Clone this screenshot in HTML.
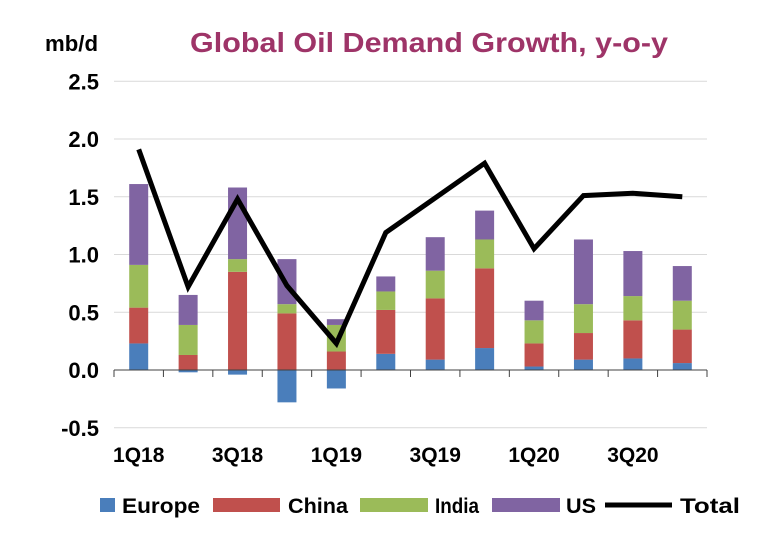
<!DOCTYPE html>
<html><head><meta charset="utf-8"><style>
body{margin:0;background:#fff;width:768px;height:541px;overflow:hidden}
svg text{font-family:"Liberation Sans",Arial,sans-serif;font-weight:bold}
</style></head><body>
<svg id="chart" width="768" height="541">
<text x="45" y="51" font-size="22" fill="#000" textLength="53" lengthAdjust="spacingAndGlyphs">mb/d</text>
<text x="190" y="52" font-size="28" fill="#9E3468" textLength="478" lengthAdjust="spacingAndGlyphs">Global Oil Demand Growth, y-o-y</text>
<g id="grid"></g><g id="bars"></g><g id="axis"></g><g id="line"></g>
<g>
<rect x="100" y="498" width="15" height="14" fill="#4A7EBB"/>
<text x="122" y="513" font-size="21" textLength="78" lengthAdjust="spacingAndGlyphs">Europe</text>
<rect x="213" y="498" width="67" height="14" fill="#C0504D"/>
<text x="288" y="513" font-size="21" textLength="60" lengthAdjust="spacingAndGlyphs">China</text>
<rect x="360" y="498" width="68" height="14" fill="#9BBB59"/>
<text x="435" y="513" font-size="21" textLength="44" lengthAdjust="spacingAndGlyphs">India</text>
<rect x="492" y="498" width="68" height="14" fill="#8064A2"/>
<text x="566" y="513" font-size="21" textLength="30" lengthAdjust="spacingAndGlyphs">US</text>
<line x1="605" y1="505" x2="672" y2="505" stroke="#000" stroke-width="5"/>
<text x="680" y="513" font-size="21" textLength="60" lengthAdjust="spacingAndGlyphs">Total</text>
</g>
</svg>
<script>
const categories=["1Q18","2Q18","3Q18","4Q18","1Q19","2Q19","3Q19","4Q19","1Q20","2Q20","3Q20","4Q20"];
const europe=[0.23,-0.02,-0.04,-0.28,-0.16,0.14,0.09,0.19,0.03,0.09,0.10,0.06];
const china=[0.31,0.13,0.85,0.49,0.16,0.38,0.53,0.69,0.20,0.23,0.33,0.29];
const india=[0.37,0.26,0.11,0.08,0.23,0.16,0.24,0.25,0.20,0.25,0.21,0.25];
const us=[0.70,0.26,0.62,0.39,0.05,0.13,0.29,0.25,0.17,0.56,0.39,0.30];
const total=[1.91,0.72,1.48,0.73,0.23,1.19,1.49,1.79,1.05,1.51,1.53,1.50];
const yTicks=[-0.5,0,0.5,1.0,1.5,2.0,2.5];
const xLabelIdx=[0,2,4,6,8,10];
const NS="http://www.w3.org/2000/svg";
const X0=114,X1=707,Y0=370,U=115.5;
const bw=(X1-X0)/categories.length;
const y=v=>Y0-v*U, xc=i=>X0+bw*(i+0.5);
function mk(tag,attrs,parent){const e=document.createElementNS(NS,tag);for(const k in attrs)e.setAttribute(k,attrs[k]);document.getElementById(parent).appendChild(e);return e;}
yTicks.forEach(t=>{
  if(t!==0){const l=mk('line',{x1:X0,x2:X1,y1:y(t),y2:y(t),stroke:'#d9d9d9','stroke-width':1},'grid');
  
  }
  const tx=mk('text',{x:99,y:y(t)+8,'font-size':22,'text-anchor':'end'},'grid');tx.textContent=t.toFixed(1);
  
  
});
const series=[[europe,'#4A7EBB','europe'],[china,'#C0504D','china'],[india,'#9BBB59','india'],[us,'#8064A2','us']];
categories.forEach((c,i)=>{
  let pos=0,neg=0;
  series.forEach(([arr,col,nm])=>{
    const v=arr[i];let top,bot;
    if(v>=0){bot=pos;top=pos+v;pos=top;}else{top=neg;bot=neg+v;neg=bot;}
    const r=mk('rect',{x:xc(i)-9.5,width:19,y:y(top),height:Math.max(0,y(bot)-y(top)),fill:col},'bars');
    
    
  });
});
const ax=mk('line',{x1:X0,x2:X1,y1:Y0,y2:Y0,stroke:'#404040','stroke-width':1},'axis');


for(let i=0;i<=categories.length;i++){
  const t=mk('line',{x1:X0+bw*i,x2:X0+bw*i,y1:Y0,y2:Y0+7,stroke:'#404040','stroke-width':1},'axis');
  
  
}
xLabelIdx.forEach(i=>{
  const t=mk('text',{x:xc(i),y:462,'font-size':21,'text-anchor':'middle'},'axis');t.textContent=categories[i];
  
  
});
const p=mk('polyline',{points:total.map((v,i)=>xc(i)+','+y(v)).join(' '),fill:'none',stroke:'#000','stroke-width':5,'stroke-linejoin':'miter'},'line');


</script>
</body></html>
